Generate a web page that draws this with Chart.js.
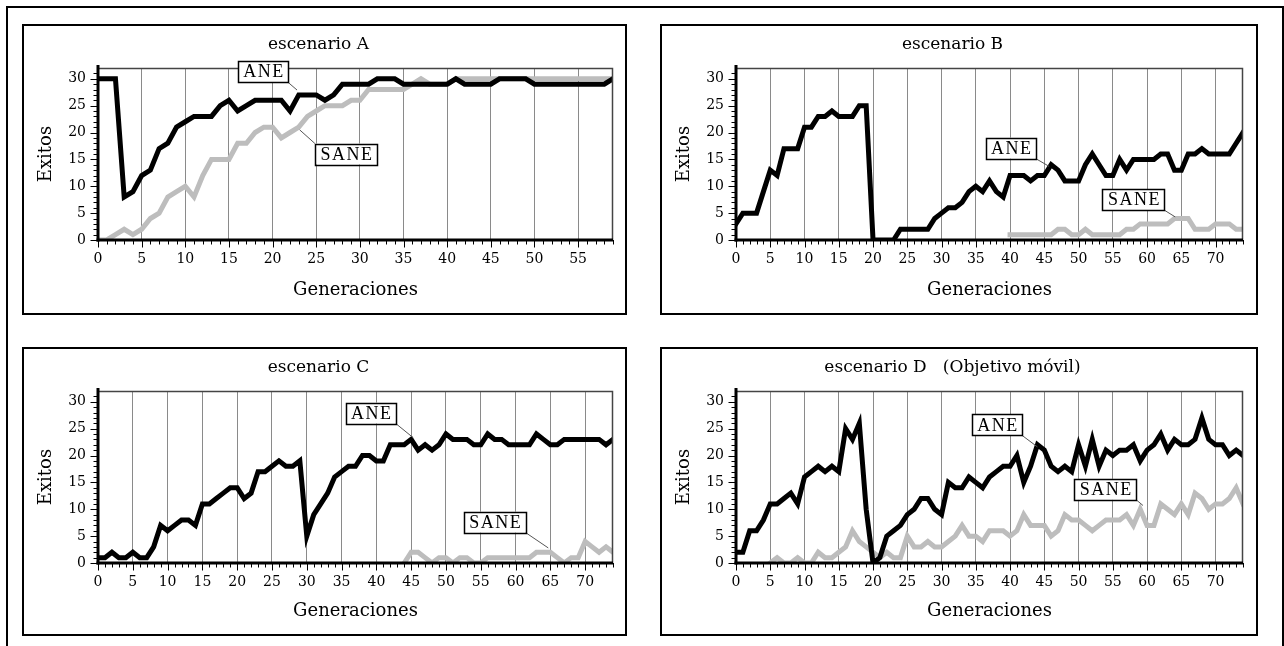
<!DOCTYPE html>
<html>
<head>
<meta charset="utf-8">
<script src="https://cdn.jsdelivr.net/npm/chart.js@4.4.1/dist/chart.umd.min.js"></script>
<style>
  body { margin: 0; background: #fff; width: 1284px; height: 646px; overflow: hidden; position: relative; }
  .frame { position: absolute; left: 6px; top: 6px; width: 1278px; height: 700px; border: 2px solid #000; box-sizing: border-box; }
  .panel { position: absolute; border: 2px solid #000; box-sizing: border-box; background: #fff; }
  .panel canvas { display: block; }
</style>
</head>
<body>
<div class="frame"></div>
<div class="panel" style="left:22px;top:24px;width:605px;height:291px"><canvas id="chartA" width="601" height="287"></canvas></div>
<div class="panel" style="left:660px;top:24px;width:598px;height:291px"><canvas id="chartB" width="594" height="287"></canvas></div>
<div class="panel" style="left:22px;top:347px;width:605px;height:289px"><canvas id="chartC" width="601" height="285"></canvas></div>
<div class="panel" style="left:660px;top:347px;width:598px;height:289px"><canvas id="chartD" width="594" height="285"></canvas></div>
<script>
// generations (x categories)
const gensA = Array.from({ length: 60 }, (_, i) => i);
const gensBCD = Array.from({ length: 75 }, (_, i) => i);

// escenario A
const aneA = [30, 30, 30, 8, 9, 12, 13, 17, 18, 21, 22, 23, 23, 23, 25, 26, 24, 25, 26, 26,
  26, 26, 24, 27, 27, 27, 26, 27, 29, 29, 29, 29, 30, 30, 30, 29, 29, 29, 29, 29,
  29, 30, 29, 29, 29, 29, 30, 30, 30, 30, 29, 29, 29, 29, 29, 29, 29, 29, 29, 30];
const saneA = [0, 0, 1, 2, 1, 2, 4, 5, 8, 9, 10, 8, 12, 15, 15, 15, 18, 18, 20, 21,
  21, 19, 20, 21, 23, 24, 25, 25, 25, 26, 26, 28, 28, 28, 28, 28, 29, 30, 29, 29,
  29, 30, 30, 30, 30, 30, 30, 30, 30, 30, 30, 30, 30, 30, 30, 30, 30, 30, 30, 30];

// escenario B
const aneB = [3, 5, 5, 5, 9, 13, 12, 17, 17, 17, 21, 21, 23, 23, 24, 23, 23, 23, 25, 25,
  0, 0, 0, 0, 2, 2, 2, 2, 2, 4, 5, 6, 6, 7, 9, 10, 9, 11, 9, 8,
  12, 12, 12, 11, 12, 12, 14, 13, 11, 11, 11, 14, 16, 14, 12, 12, 15, 13, 15, 15,
  15, 15, 16, 16, 13, 13, 16, 16, 17, 16, 16, 16, 16, 18, 20];
const saneB = [null, null, null, null, null, null, null, null, null, null,
  null, null, null, null, null, null, null, null, null, null,
  null, null, null, null, null, null, null, null, null, null,
  null, null, null, null, null, null, null, null, null, null,
  1, 1, 1, 1, 1, 1, 1, 2, 2, 1, 1, 2, 1, 1, 1, 1, 1, 2, 2, 3,
  3, 3, 3, 3, 4, 4, 4, 2, 2, 2, 3, 3, 3, 2, 2];

// escenario C
const aneC = [1, 1, 2, 1, 1, 2, 1, 1, 3, 7, 6, 7, 8, 8, 7, 11, 11, 12, 13, 14,
  14, 12, 13, 17, 17, 18, 19, 18, 18, 19, 5, 9, 11, 13, 16, 17, 18, 18, 20, 20,
  19, 19, 22, 22, 22, 23, 21, 22, 21, 22, 24, 23, 23, 23, 22, 22, 24, 23, 23, 22,
  22, 22, 22, 24, 23, 22, 22, 23, 23, 23, 23, 23, 23, 22, 23];
const saneC = [null, null, null, null, null, null, null, null, null, null,
  null, null, null, null, null, null, null, null, null, null,
  null, null, null, null, null, null, null, null, null, null,
  null, null, null, null, null, null, null, null, null, null,
  null, null, null, null, 0, 2, 2, 1, 0, 1, 1, 0, 1, 1, 0, 0, 1, 1, 1, 1,
  1, 1, 1, 2, 2, 2, 1, 0, 1, 1, 4, 3, 2, 3, 2];

// escenario D (Objetivo móvil)
const aneD = [2, 2, 6, 6, 8, 11, 11, 12, 13, 11, 16, 17, 18, 17, 18, 17, 25, 23, 26, 10,
  0, 1, 5, 6, 7, 9, 10, 12, 12, 10, 9, 15, 14, 14, 16, 15, 14, 16, 17, 18,
  18, 20, 15, 18, 22, 21, 18, 17, 18, 17, 22, 18, 23, 18, 21, 20, 21, 21, 22, 19,
  21, 22, 24, 21, 23, 22, 22, 23, 27, 23, 22, 22, 20, 21, 20];
const saneD = [null, null, null, null, null, 0, 1, 0, 0, 1, 0, 0, 2, 1, 1, 2, 3, 6, 4, 3,
  2, 1, 2, 1, 1, 5, 3, 3, 4, 3, 3, 4, 5, 7, 5, 5, 4, 6, 6, 6,
  5, 6, 9, 7, 7, 7, 5, 6, 9, 8, 8, 7, 6, 7, 8, 8, 8, 9, 7, 10,
  7, 7, 11, 10, 9, 11, 9, 13, 12, 10, 11, 11, 12, 14, 11];

const SERIF = '"DejaVu Serif", "Liberation Serif", serif';
const TAG_FONT = '"Liberation Serif", "DejaVu Serif", serif';
Chart.defaults.font.family = SERIF;
Chart.defaults.color = '#000';

function toPoints(gens, vals) {
  return vals.map((v, i) => ({ x: gens[i], y: v }));
}

// draws the plot frame, minor ticks, thick axes and the ANE / SANE tags
function framePlugin(tags) {
  return {
    id: 'frame',
    afterDatasetsDraw(chart) {
      const { ctx, chartArea: a, scales: { x, y } } = chart;
      ctx.save();
      ctx.strokeStyle = '#444';
      ctx.lineWidth = 1.5;
      ctx.beginPath();
      ctx.moveTo(a.left, a.top + 0.5);
      ctx.lineTo(a.right - 0.5, a.top + 0.5);
      ctx.lineTo(a.right - 0.5, a.bottom);
      ctx.stroke();

      ctx.strokeStyle = '#000';
      ctx.lineWidth = 1;
      ctx.beginPath();
      for (let v = 0; v <= x.max; v++) {
        const px = Math.round(x.getPixelForValue(v)) + 0.5;
        const len = v % 5 === 0 ? 6 : 3;
        ctx.moveTo(px, a.bottom);
        ctx.lineTo(px, a.bottom + 1.5 + len);
      }
      for (let v = 0; v <= 31; v++) {
        const py = Math.round(y.getPixelForValue(v)) + 0.5;
        const len = v % 5 === 0 ? 6 : 3;
        ctx.moveTo(a.left, py);
        ctx.lineTo(a.left - 1.5 - len, py);
      }
      ctx.stroke();

      ctx.fillStyle = '#000';
      ctx.fillRect(a.left - 1.5, a.top - 3, 3, a.bottom - a.top + 4.5);
      ctx.fillRect(a.left - 1.5, a.bottom - 1.5, a.right - a.left + 1.5, 3);

      ctx.font = '18px ' + TAG_FONT;
      ctx.letterSpacing = '1.5px';
      ctx.textAlign = 'center';
      ctx.textBaseline = 'middle';
      tags.forEach(t => {
        const cx = x.getPixelForValue(t.x), cy = y.getPixelForValue(t.y);
        const tx = x.getPixelForValue(t.tx), ty = y.getPixelForValue(t.ty);
        const w = Math.round(ctx.measureText(t.text).width + 9), h = 21;
        const sx = tx > cx ? cx + w / 2 : cx - w / 2;
        const sy = ty > cy ? cy + h / 2 : cy - h / 2;
        ctx.strokeStyle = '#555';
        ctx.lineWidth = 1;
        ctx.beginPath();
        ctx.moveTo(sx, sy);
        ctx.lineTo(tx, ty);
        ctx.stroke();
        ctx.fillStyle = '#fff';
        ctx.fillRect(cx - w / 2, cy - h / 2, w, h);
        ctx.strokeStyle = '#000';
        ctx.lineWidth = 1.5;
        ctx.strokeRect(Math.round(cx - w / 2) + 0.5, Math.round(cy - h / 2) + 0.5, w, h);
        ctx.fillStyle = '#000';
        ctx.fillText(t.text, cx + 1, cy + 1);
      });
      ctx.restore();
    }
  };
}

function makeChart(id, title, gens, xMax, ane, sane, rightPad, xH, tags) {
  return new Chart(document.getElementById(id), {
    type: 'line',
    data: {
      datasets: [
        {
          label: 'ANE',
          data: toPoints(gens, ane),
          borderColor: '#000',
          borderWidth: 5,
          pointRadius: 0,
          tension: 0,
          borderJoinStyle: 'miter',
          borderCapStyle: 'square'
        },
        {
          label: 'SANE',
          data: toPoints(gens, sane),
          borderColor: '#bdbdbd',
          borderWidth: 5,
          pointRadius: 0,
          tension: 0,
          borderJoinStyle: 'miter',
          borderCapStyle: 'square'
        }
      ]
    },
    options: {
      responsive: false,
      animation: false,
      layout: { padding: { left: 0, right: rightPad, top: 0, bottom: 0 } },
      plugins: {
        legend: { display: false },
        tooltip: { enabled: false },
        title: {
          display: true,
          text: title,
          color: '#000',
          font: { size: 17, weight: 'normal' },
          padding: { top: 8, bottom: 13.6 }
        }
      },
      scales: {
        x: {
          type: 'linear',
          min: 0,
          max: xMax,
          afterFit: s => { s.height = xH; },
          ticks: { stepSize: 5, includeBounds: false, autoSkip: false, maxRotation: 0, padding: 11, font: { size: 14 }, color: '#000' },
          grid: { color: '#8a8a8a', lineWidth: 1, drawTicks: false },
          border: { display: false },
          title: { display: true, text: 'Generaciones', color: '#000', font: { size: 18 }, padding: { top: 0, bottom: 12 } }
        },
        y: {
          min: 0,
          max: 32,
          afterFit: s => { s.width = 74; },
          ticks: { stepSize: 5, includeBounds: false, padding: 12, font: { size: 14 }, color: '#000' },
          grid: { display: false, drawTicks: false },
          border: { display: false },
          title: { display: true, text: 'Exitos', color: '#000', font: { size: 18 }, padding: { top: 12, bottom: 0 } }
        }
      }
    },
    plugins: [framePlugin(tags)]
  });
}

makeChart('chartA', 'escenario A', gensA, 59, aneA, saneA, 12, 73, [
  { text: 'ANE', x: 18.9, y: 31.3, tx: 22.8, ty: 27.9 },
  { text: 'SANE', x: 28.4, y: 16, tx: 23.1, ty: 20.5 }
]);
makeChart('chartB', 'escenario B', gensBCD, 74, aneB, saneB, 13, 73, [
  { text: 'ANE', x: 40.1, y: 17.1, tx: 45.7, ty: 13.7 },
  { text: 'SANE', x: 58, y: 7.5, tx: 64.1, ty: 4.3 }
]);
makeChart('chartC', 'escenario C', gensBCD, 74, aneC, saneC, 12, 71, [
  { text: 'ANE', x: 39.2, y: 27.9, tx: 45.3, ty: 23.3 },
  { text: 'SANE', x: 57, y: 7.6, tx: 64.7, ty: 2.8 }
]);
makeChart('chartD', 'escenario D   (Objetivo móvil)', gensBCD, 74, aneD, saneD, 13, 71, [
  { text: 'ANE', x: 38.1, y: 25.7, tx: 44, ty: 21.6 },
  { text: 'SANE', x: 53.9, y: 13.7, tx: 59.4, ty: 10.7 }
]);
</script>
</body>
</html>
